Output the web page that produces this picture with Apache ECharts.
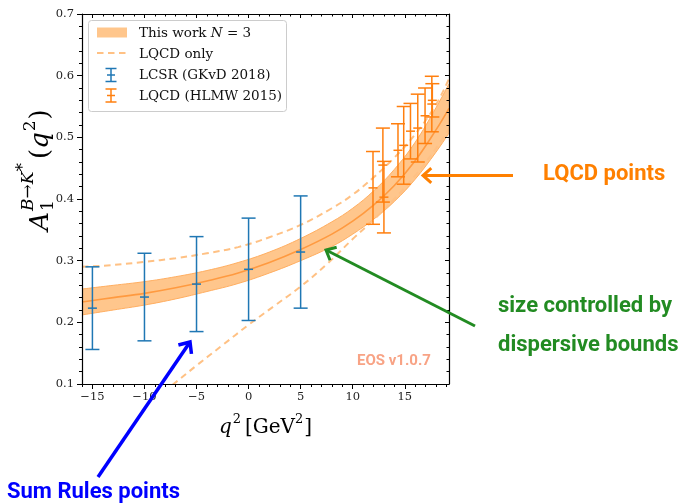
<!DOCTYPE html>
<html><head><meta charset="utf-8">
<script src="https://cdn.jsdelivr.net/npm/echarts@6/dist/echarts.min.js"></script>
<style>html,body{margin:0;padding:0;background:#fff}#c{width:684px;height:504px}</style>
</head><body><div id="c"></div>
<script>
// ---------- data ----------
const xMajorTicks = [-15, -10, -5, 0, 5, 10, 15];
const xMinorTicks = [-16,-15,-14,-13,-12,-11,-10,-9,-8,-7,-6,-5,-4,-3,-2,-1,0,1,2,3,4,5,6,7,8,9,10,11,12,13,14,15,16,17,18,19];

const bandQ2   = [-16, -13, -10, -7, -4, -1, 2, 5, 8, 10, 12, 14, 16, 18, 19.25];
const bandMid  = [0.233,0.240,0.247,0.256,0.267,0.280,0.297,0.318,0.343,0.364,0.390,0.422,0.462,0.512,0.547];
const bandLow  = [0.212,0.220,0.228,0.238,0.250,0.263,0.280,0.300,0.323,0.343,0.367,0.396,0.432,0.476,0.507];
const bandHigh = [0.254,0.260,0.266,0.274,0.284,0.297,0.314,0.336,0.363,0.385,0.413,0.448,0.492,0.548,0.587];

const lqcdOnlyUpQ2  = [-16, -13, -10, -7, -4, -1, 2, 5, 8, 10, 12, 14, 16, 18, 19.25];
const lqcdOnlyUp    = [0.290,0.293,0.298,0.304,0.312,0.322,0.338,0.358,0.385,0.407,0.435,0.467,0.505,0.553,0.595];
const lqcdOnlyLowQ2 = [-9, -7.5, -5, -2.5, 0, 2.5, 5, 7.5, 10, 12, 14, 16, 18, 19.25];
const lqcdOnlyLow   = [0.077,0.096,0.130,0.163,0.196,0.227,0.258,0.294,0.335,0.366,0.400,0.438,0.482,0.514];

const lcsrQ2  = [-15, -10, -5, 0, 5];
const lcsrVal = [0.223, 0.241, 0.262, 0.286, 0.314];
const lcsrErr = [0.067, 0.071, 0.077, 0.083, 0.091];

const lqcdQ2  = [11.95, 12.9, 13.0, 14.35, 14.9, 15.55, 16.25, 16.95, 17.6, 17.65];
const lqcdVal = [0.418, 0.455, 0.403, 0.479, 0.487, 0.510, 0.515, 0.535, 0.554, 0.560];
const lqcdErr = [0.059, 0.060, 0.058, 0.043, 0.063, 0.045, 0.055, 0.045, 0.045, 0.027];

// ---------- styles ----------
const C_BLUE = '#1f77b4', C_ORANGE = '#ff7f0e';
const C_BAND = '#ffc68c', C_EDGE = '#ffae60', C_MID = '#ff9a40', C_DASH = '#ffc184';
const SERIF = 'DejaVu Serif';

const mctx = document.createElement('canvas').getContext('2d');
function tw(t, font) { mctx.font = font; return mctx.measureText(t).width; }
function minus(v) { return (v < 0 ? '\u2212' : '') + Math.abs(v); }

function errRender(color) {
  return function (params, api) {
    const x = api.value(0), y = api.value(1), e = api.value(2);
    const c = api.coord([x, y]), t = api.coord([x, y + e]), b = api.coord([x, y - e]);
    const cw = 7, mw = 4.5, st = { stroke: color, lineWidth: 1.5 };
    return { type: 'group', children: [
      { type: 'line', shape: { x1: c[0], y1: t[1], x2: c[0], y2: b[1] }, style: st },
      { type: 'line', shape: { x1: c[0] - cw, y1: t[1], x2: c[0] + cw, y2: t[1] }, style: st },
      { type: 'line', shape: { x1: c[0] - cw, y1: b[1], x2: c[0] + cw, y2: b[1] }, style: st },
      { type: 'line', shape: { x1: c[0] - mw, y1: c[1], x2: c[0] + mw, y2: c[1] }, style: st }
    ]};
  };
}

function arrow(x1, y1, x2, y2, color, w, h) {
  const dx = x1 - x2, dy = y1 - y2, L = Math.hypot(dx, dy), ux = dx / L, uy = dy / L;
  const a = 0.72, ca = Math.cos(a), sa = Math.sin(a);
  const p1 = [x2 + h * (ux * ca - uy * sa), y2 + h * (ux * sa + uy * ca)];
  const p2 = [x2 + h * (ux * ca + uy * sa), y2 + h * (-ux * sa + uy * ca)];
  return [
    { type: 'line', shape: { x1, y1, x2, y2 }, style: { stroke: color, lineWidth: w }, z: 100 },
    { type: 'polyline', shape: { points: [p1, [x2, y2], p2] }, style: { stroke: color, lineWidth: w, fill: null }, z: 100 }
  ];
}

function txt(x, y, text, font, fill, extra) {
  return Object.assign({ type: 'text', x, y, z: 100,
    style: { text, font, fill, align: 'left', verticalAlign: 'middle', textAlign: 'left', textVerticalAlign: 'middle' } }, extra || {});
}

// ---------- axis titles (built from measured pieces) ----------
function buildPieces(pieces, x0, yMid) {
  const out = []; let x = x0;
  pieces.forEach(p => {
    out.push(txt(x, yMid + (p.dy || 0), p.t, p.font, '#000'));
    if (!p.noAdvance) x += tw(p.t, p.font) + (p.gap || 0);
  });
  return { els: out, width: x - x0 };
}
const FM = '20px "' + SERIF + '"', FMI = 'italic 20px "' + SERIF + '"', FS = '13px "' + SERIF + '"';
const xTitlePieces = [
  { t: 'q', font: FMI, gap: 1 }, { t: '2', font: FS, dy: -8, gap: 4 },
  { t: '[GeV', font: FM }, { t: '2', font: FS, dy: -8, gap: 1 }, { t: ']', font: FM }
];
let tmp = buildPieces(xTitlePieces, 0, 0);
const xTitle = buildPieces(xTitlePieces, 265.5 - tmp.width / 2, 428).els;

const YM = '26px "' + SERIF + '"', YMI = 'italic 26px "' + SERIF + '"', YS = '17px "' + SERIF + '"', YSI = 'italic 17px "' + SERIF + '"';
const yTitlePieces = [
  { t: 'A', font: YMI, gap: 1 },
  { t: '1', font: YS, dy: 8, noAdvance: true },
  { t: 'B\u2192K', font: YSI, dy: -12 },
  { t: '*', font: YS, dy: -17, gap: 4 },
  { t: '(', font: YM }, { t: 'q', font: YMI, gap: 1 }, { t: '2', font: YS, dy: -10, gap: 1 }, { t: ')', font: YM }
];
tmp = buildPieces(yTitlePieces, 0, 0);
const yTitleGroup = { type: 'group', x: 41, y: 170 + tmp.width / 2, rotation: Math.PI / 2, z: 100,
  children: buildPieces(yTitlePieces, 0, 0).els };

// ---------- legend ----------
const LF = '13.5px "' + SERIF + '"';
function legendErr(cx, cy, color) {
  const st = { stroke: color, lineWidth: 1.5 };
  return [
    { type: 'line', shape: { x1: cx, y1: cy - 6.5, x2: cx, y2: cy + 6.5 }, style: st, z: 100 },
    { type: 'line', shape: { x1: cx - 5.5, y1: cy - 6.5, x2: cx + 5.5, y2: cy - 6.5 }, style: st, z: 100 },
    { type: 'line', shape: { x1: cx - 5.5, y1: cy + 6.5, x2: cx + 5.5, y2: cy + 6.5 }, style: st, z: 100 },
    { type: 'line', shape: { x1: cx - 4, y1: cy, x2: cx + 4, y2: cy }, style: st, z: 100 }
  ];
}
const legendEls = [
  { type: 'rect', shape: { x: 88.5, y: 20.5, width: 198, height: 91, r: 3 }, style: { fill: 'rgba(255,255,255,0.85)', stroke: '#cccccc', lineWidth: 1 }, z: 99 },
  { type: 'rect', shape: { x: 97, y: 27.5, width: 30, height: 10 }, style: { fill: C_BAND }, z: 100 },
  { type: 'line', shape: { x1: 97, y1: 53, x2: 127, y2: 53 }, style: { stroke: C_DASH, lineWidth: 2, lineDash: [6.5, 4.5] }, z: 100 },
  ...legendErr(111, 75, C_BLUE),
  ...legendErr(111, 95.5, C_ORANGE),
  { type: 'text', x: 139, y: 33, z: 100, style: { text: 'This work {i|N} = 3', font: LF, fill: '#111', verticalAlign: 'middle', textVerticalAlign: 'middle',
      rich: { i: { fontStyle: 'italic', fontFamily: SERIF, fontSize: 13.5, fill: '#111' } } } },
  txt(139, 54, 'LQCD only', LF, '#111'),
  txt(139, 75.5, 'LCSR (GKvD 2018)', LF, '#111'),
  txt(139, 96.5, 'LQCD (HLMW 2015)', LF, '#111')
];

// ---------- annotations ----------
const AF = 'bold 22px Roboto';
const annotEls = [
  txt(543, 174, 'LQCD points', AF, '#ff8000'),
  txt(498, 306, 'size controlled by', AF, '#228b22'),
  txt(498, 345, 'dispersive bounds', AF, '#228b22'),
  txt(7, 492, 'Sum Rules points', AF, '#0000ff'),
  txt(357, 361.5, 'EOS v1.0.7', 'bold 15px Roboto', '#f8a385'),
  ...arrow(513, 175.5, 423, 175.5, '#ff8000', 3, 11),
  ...arrow(475, 326, 326, 250, '#228b22', 3, 11),
  ...arrow(98, 477, 190, 342, '#0000ff', 3.5, 12)
];

// ---------- chart ----------
const axisLineStyle = { color: '#000', width: 1.2 };
const tickStyle = { color: '#000', width: 1 };
const xBase = { type: 'value', min: -16, max: 19.25, splitLine: { show: false }, axisPointer: { show: false }, z: 10 };
const yBase = { type: 'value', min: 0.1, max: 0.7, interval: 0.1, splitLine: { show: false }, z: 10 };

const option = {
  animation: false,
  backgroundColor: '#fff',
  grid: { left: 82, right: 235, top: 14, bottom: 120, containLabel: false },
  xAxis: [
    Object.assign({}, xBase, { position: 'bottom', axisLine: { show: true, onZero: false, lineStyle: axisLineStyle },
      axisTick: { show: true, customValues: xMajorTicks, length: 5, lineStyle: tickStyle },
      axisLabel: { customValues: xMajorTicks, formatter: minus, fontFamily: SERIF, fontSize: 11.5, color: '#222', margin: 7 } }),
    Object.assign({}, xBase, { position: 'bottom', axisLine: { show: false, onZero: false },
      axisTick: { show: true, customValues: xMinorTicks, length: 3, lineStyle: tickStyle }, axisLabel: { show: false } }),
    Object.assign({}, xBase, { position: 'top', axisLine: { show: true, onZero: false, lineStyle: axisLineStyle },
      axisTick: { show: true, inside: true, customValues: xMajorTicks, length: 4, lineStyle: tickStyle }, axisLabel: { show: false } }),
    Object.assign({}, xBase, { position: 'top', axisLine: { show: false, onZero: false },
      axisTick: { show: true, inside: true, customValues: xMinorTicks, length: 2.5, lineStyle: tickStyle }, axisLabel: { show: false } })
  ],
  yAxis: [
    Object.assign({}, yBase, { position: 'left', axisLine: { show: true, onZero: false, lineStyle: axisLineStyle },
      axisTick: { show: true, length: 5, lineStyle: tickStyle },
      minorTick: { show: true, splitNumber: 5, length: 3, lineStyle: tickStyle },
      axisLabel: { formatter: v => v.toFixed(1), fontFamily: SERIF, fontSize: 11.5, color: '#222', margin: 8 } }),
    Object.assign({}, yBase, { position: 'right', axisLine: { show: true, onZero: false, lineStyle: axisLineStyle },
      axisTick: { show: true, inside: true, length: 4, lineStyle: tickStyle },
      minorTick: { show: true, splitNumber: 5, length: 2.5, lineStyle: tickStyle },
      axisLabel: { show: false } })
  ],
  series: [
    // band: upper edge filled down to the axis in band colour, lower edge filled down in white
    { type: 'line', name: 'bandHigh', data: bandQ2.map((q, i) => [q, bandHigh[i]]), smooth: 0.4,
      symbol: 'none', silent: true, lineStyle: { color: C_EDGE, width: 1 }, areaStyle: { color: C_BAND, opacity: 1, origin: 'start' }, z: 1 },
    { type: 'line', name: 'bandLow', data: bandQ2.map((q, i) => [q, bandLow[i]]), smooth: 0.4,
      symbol: 'none', silent: true, lineStyle: { color: C_EDGE, width: 1 }, areaStyle: { color: '#ffffff', opacity: 1, origin: 'start' }, z: 1 },
    { type: 'line', name: 'This work N = 3', data: bandQ2.map((q, i) => [q, bandMid[i]]), smooth: 0.4,
      symbol: 'none', silent: true, lineStyle: { color: C_MID, width: 1.6 }, z: 3 },
    { type: 'line', name: 'LQCD only up', data: lqcdOnlyUpQ2.map((q, i) => [q, lqcdOnlyUp[i]]), smooth: 0.4,
      symbol: 'none', silent: true, lineStyle: { color: C_DASH, width: 2, type: [6.5, 4.5] }, z: 4 },
    { type: 'line', name: 'LQCD only low', data: lqcdOnlyLowQ2.map((q, i) => [q, lqcdOnlyLow[i]]), smooth: 0.4,
      symbol: 'none', silent: true, lineStyle: { color: C_DASH, width: 2, type: [6.5, 4.5] }, z: 4 },
    { type: 'custom', name: 'LCSR (GKvD 2018)', renderItem: errRender(C_BLUE), encode: { x: 0, y: 1 },
      data: lcsrQ2.map((q, i) => [q, lcsrVal[i], lcsrErr[i]]), z: 5, silent: true },
    { type: 'custom', name: 'LQCD (HLMW 2015)', renderItem: errRender(C_ORANGE), encode: { x: 0, y: 1 },
      data: lqcdQ2.map((q, i) => [q, lqcdVal[i], lqcdErr[i]]), z: 5, silent: true }
  ],
  graphic: [].concat(xTitle, [yTitleGroup], legendEls, annotEls)
};

const chart = echarts.init(document.getElementById('c'));
chart.setOption(option);
</script></body></html>
